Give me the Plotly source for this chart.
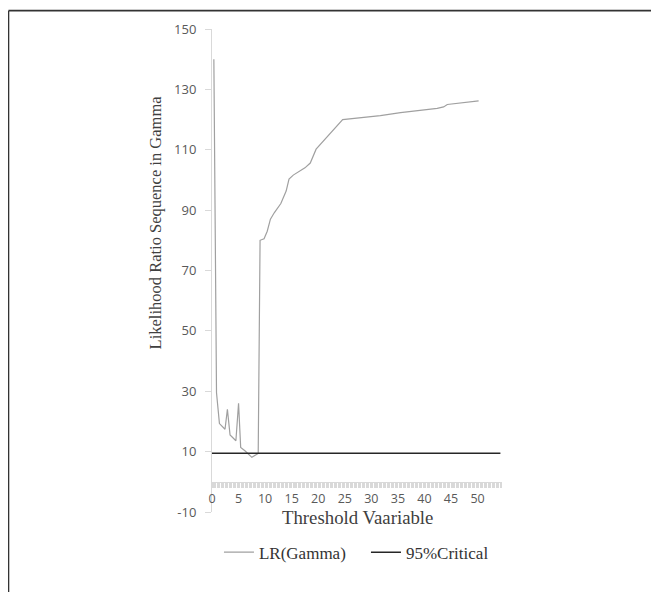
import plotly.graph_objects as go

# Threshold variable values and LR(Gamma) sequence
threshold = [0.35, 0.85, 1.4, 2.45, 2.9, 3.4, 4.5, 5.0, 5.4, 6.2, 7.5, 8.7, 9.05,
             9.8, 10.4, 11.0, 11.75, 12.96, 13.96, 14.5, 15.3, 17.5, 18.5, 19.6,
             24.6, 31.7, 35.5, 42.4, 43.6, 44.3, 50.2]
lr_gamma = [140.0, 29.5, 19.3, 17.4, 24.0, 15.5, 13.6, 26.0, 11.4, 10.3, 8.1, 9.4, 80.0,
            80.5, 83.0, 87.0, 89.2, 92.2, 96.3, 100.3, 101.6, 104.0, 105.6, 110.2,
            120.0, 121.3, 122.3, 123.7, 124.2, 125.0, 126.2]

crit_x = [0, 54.3]
crit_y = [9.45, 9.45]

x_ticks = [0, 5, 10, 15, 20, 25, 30, 35, 40, 45, 50]
y_ticks = [-10, 10, 30, 50, 70, 90, 110, 130, 150]

SERIF = "Liberation Serif, Times New Roman, serif"
SANS = "Open Sans, sans-serif"

fig = go.Figure()
fig.add_trace(go.Scatter(x=threshold, y=lr_gamma, mode="lines", name="LR(Gamma)",
                         line=dict(color="#a0a0a0", width=1.2)))
fig.add_trace(go.Scatter(x=crit_x, y=crit_y, mode="lines", name="95%Critical",
                         line=dict(color="#262626", width=1.5)))

axis_col = "#d9d9d9"
fig.update_layout(
    width=659, height=592,
    margin=dict(l=204, r=165, t=17, b=88),
    paper_bgcolor="white", plot_bgcolor="white",
    showlegend=True,
    legend=dict(orientation="h", x=0.024, xanchor="left", y=-0.0842, yanchor="middle",
                entrywidth=102, entrywidthmode="pixels",
                font=dict(family=SERIF, size=17, color="#333333"),
                bgcolor="rgba(0,0,0,0)"),
    xaxis=dict(range=[0, 54.6], anchor="free", position=0.0625,
               showline=True, linecolor=axis_col, linewidth=1,
               showgrid=False, zeroline=False,
               ticks="outside", ticklen=5, tickcolor=axis_col,
               tickmode="array", tickvals=x_ticks, ticktext=[str(v) for v in x_ticks],
               minor=dict(ticks="outside", ticklen=5, tickcolor=axis_col, dtick=0.25, tick0=0),
               tickfont=dict(family=SANS, size=12.5, color="#595959")),
    yaxis=dict(range=[-10, 150], showline=True, linecolor=axis_col, linewidth=1,
               showgrid=False, zeroline=False,
               ticks="outside", ticklen=6, tickcolor=axis_col,
               tickmode="array", tickvals=y_ticks, ticktext=[str(v) for v in y_ticks],
               ticklabelstandoff=6,
               tickfont=dict(family=SANS, size=13, color="#595959")),
    annotations=[
        dict(text="Threshold Vaariable", xref="paper", yref="paper",
             x=0.5, y=(512 - 518) / 487, xanchor="center", yanchor="middle",
             showarrow=False, font=dict(family=SERIF, size=18.8, color="#404040")),
        dict(text="Likelihood Ratio Sequence in Gamma", xref="paper", yref="paper",
             x=(155 - 212) / 290, y=(512 - 220) / 487, xanchor="center", yanchor="middle",
             textangle=-90, showarrow=False,
             font=dict(family=SERIF, size=16.5, color="#404040")),
    ],
    shapes=[
        dict(type="line", xref="paper", yref="paper",
             x0=(8.5 - 212) / 290, x1=(700 - 212) / 290,
             y0=(512 - 6.5) / 487, y1=(512 - 6.5) / 487,
             line=dict(color="#333333", width=1.6)),
        dict(type="line", xref="paper", yref="paper",
             x0=(8.5 - 212) / 290, x1=(8.5 - 212) / 290,
             y0=(512 - 6.5) / 487, y1=(512 - 620) / 487,
             line=dict(color="#333333", width=1.6)),
    ],
)

fig.write_html("out.html")
